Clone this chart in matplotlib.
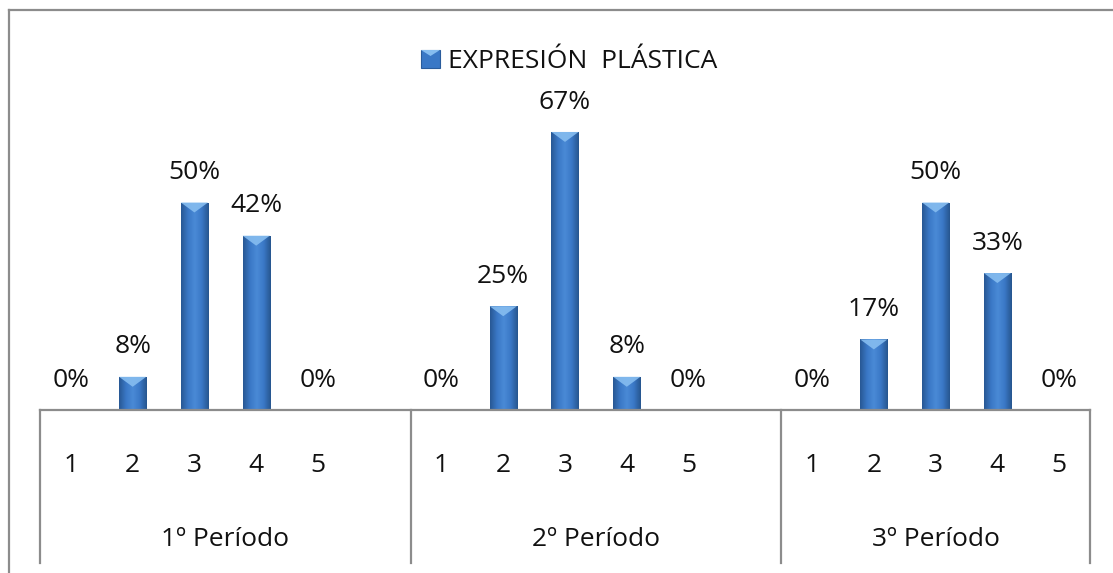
import numpy as np
import matplotlib
matplotlib.use("Agg")
import matplotlib.pyplot as plt
from matplotlib.colors import LinearSegmentedColormap
from matplotlib.patches import Rectangle, Polygon
from matplotlib.lines import Line2D
import matplotlib.transforms as mtransforms

# ---- data ----
series_name = "EXPRESIÓN  PLÁSTICA"
periods = ["1º Período", "2º Período", "3º Período"]
grades = ["1", "2", "3", "4", "5"]
period1 = [0, 8, 50, 42, 0]
period2 = [0, 25, 67, 8, 0]
period3 = [0, 17, 50, 33, 0]
values_by_period = [period1, period2, period3]

plt.rcParams["font.family"] = ["Open Sans", "DejaVu Sans"]
FS = 19

W, H, DPI = 1113, 573, 100
fig = plt.figure(figsize=(W / DPI, H / DPI), dpi=DPI)
fig.patch.set_facecolor("white")

# plot area in pixels (from top-left)
left_px, right_px, base_px, top_px = 40, 1090, 410, 78
ax = fig.add_axes([left_px / W, (H - base_px) / H,
                   (right_px - left_px) / W, (base_px - top_px) / H])
ax.axis("off")

grey = "#8c8c8c"
bar_w = 0.44
cmap = LinearSegmentedColormap.from_list(
    "barshade", ["#285894", "#3a78c6", "#4a8ad6", "#3a78c6", "#27568f"])
grad = np.linspace(0, 1, 64).reshape(1, -1)

slot = 0
positions = []
for gi, vals in enumerate(values_by_period):
    for gj, v in enumerate(vals):
        x = slot + gj
        positions.append((x, grades[gj]))
        if v > 0:
            rect = Rectangle((x - bar_w / 2, 0), bar_w, v, facecolor="none",
                             edgecolor="none")
            ax.add_patch(rect)
            im = ax.imshow(grad, cmap=cmap, aspect="auto",
                           extent=(x - bar_w / 2, x + bar_w / 2, 0, v),
                           zorder=2)
            im.set_clip_path(rect)
            # light bevel on the top face
            tri_h = min(2.4, v * 0.4)
            ax.add_patch(Polygon([(x - bar_w / 2, v), (x + bar_w / 2, v),
                                  (x, v - tri_h)], closed=True,
                                 facecolor="#86bdf0", edgecolor="none",
                                 alpha=0.9, zorder=3))
        ax.annotate(f"{v}%", (x, v), xytext=(0, 21.5),
                    textcoords="offset points", ha="center", va="center",
                    fontsize=FS, color="#111111")
    slot += 6
ax.set_xlim(-0.5, 16.5)
ax.set_ylim(0, 80)

# category axis
ax.add_line(Line2D([-0.5, 16.5], [0, 0], color=grey, lw=1.6, zorder=4,
                   clip_on=False))
trans = mtransforms.blended_transform_factory(ax.transData, fig.transFigure)
y_tick = (H - 465) / H
y_group = (H - 539) / H
y_sep_bottom = (H - 563) / H
for x, g in positions:
    fig.text(x, y_tick, g, transform=trans, fontsize=FS, ha="center",
             va="center", color="#111111")
bounds = [-0.5, 5.5, 11.5, 16.5]
for b in bounds:
    fig.add_artist(Line2D([b, b], [(H - base_px) / H, y_sep_bottom],
                          transform=trans, color=grey, lw=1.6))
for gi, name in enumerate(periods):
    cx = (bounds[gi] + bounds[gi + 1]) / 2
    fig.text(cx, y_group, name, transform=trans, fontsize=FS, ha="center",
             va="center", color="#111111")

# legend
fig.add_artist(Rectangle((421 / W, (H - 68) / H), 19 / W, 18 / H,
                         transform=fig.transFigure, facecolor="#3a78c6",
                         edgecolor="#2a5c9c", lw=0.8))
fig.add_artist(Polygon([(421 / W, (H - 50) / H), (440 / W, (H - 50) / H),
                        (430.5 / W, (H - 56) / H)], closed=True,
                       transform=fig.transFigure, facecolor="#86bdf0",
                       edgecolor="none"))
fig.text(448 / W, (H - 61) / H, series_name, fontsize=FS, ha="left",
         va="center", color="#111111")

# chart frame (top and left edges)
fig.add_artist(Line2D([8.5 / W, 8.5 / W], [0, (H - 10) / H],
                      transform=fig.transFigure, color=grey, lw=1.6))
fig.add_artist(Line2D([8.5 / W, 1], [(H - 10) / H, (H - 10) / H],
                      transform=fig.transFigure, color=grey, lw=1.6))

fig.savefig("out.png", dpi=DPI, facecolor="white")
